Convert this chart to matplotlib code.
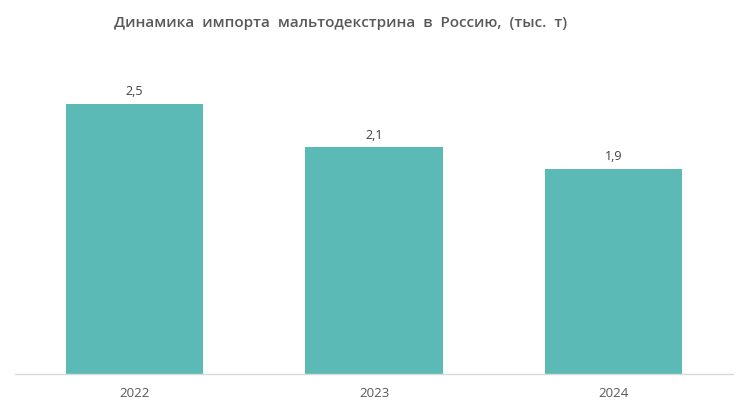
import matplotlib.pyplot as plt

years = ["2022", "2023", "2024"]
values = [2.5, 2.1, 1.9]
value_labels = ["2,5", "2,1", "1,9"]

plt.rcParams['font.family'] = ['Open Sans', 'DejaVu Sans']

fig = plt.figure(figsize=(7.47, 4.11), dpi=100)
ax = fig.add_axes([15 / 747, 37 / 411, 718 / 747, 324 / 411])

x = range(len(years))
bars = ax.bar(x, values, width=0.573, color="#5BBAB5")

for rect, lab in zip(bars, value_labels):
    ax.annotate(lab, (rect.get_x() + rect.get_width() / 2, rect.get_height()),
                xytext=(0, 4), textcoords="offset points",
                ha="center", va="bottom", fontsize=9, color="#404040")

ax.set_xlim(-0.5, 2.5)
ax.set_ylim(0, 3.0)
ax.set_xticks(list(x))
ax.set_xticklabels(years, fontsize=9.5, color="#595959")
ax.tick_params(axis="x", length=0, pad=9)
ax.set_yticks([])
for side in ["top", "left", "right"]:
    ax.spines[side].set_visible(False)
ax.spines["bottom"].set_color("#D9D9D9")
ax.spines["bottom"].set_linewidth(1)

fig.text(341 / 747, 1 - 23 / 411, "Динамика  импорта  мальтодекстрина  в  Россию,  (тыс.  т)",
         ha="center", va="center", fontsize=11, fontweight="semibold", color="#595959")

fig.savefig("out.png", dpi=100)
